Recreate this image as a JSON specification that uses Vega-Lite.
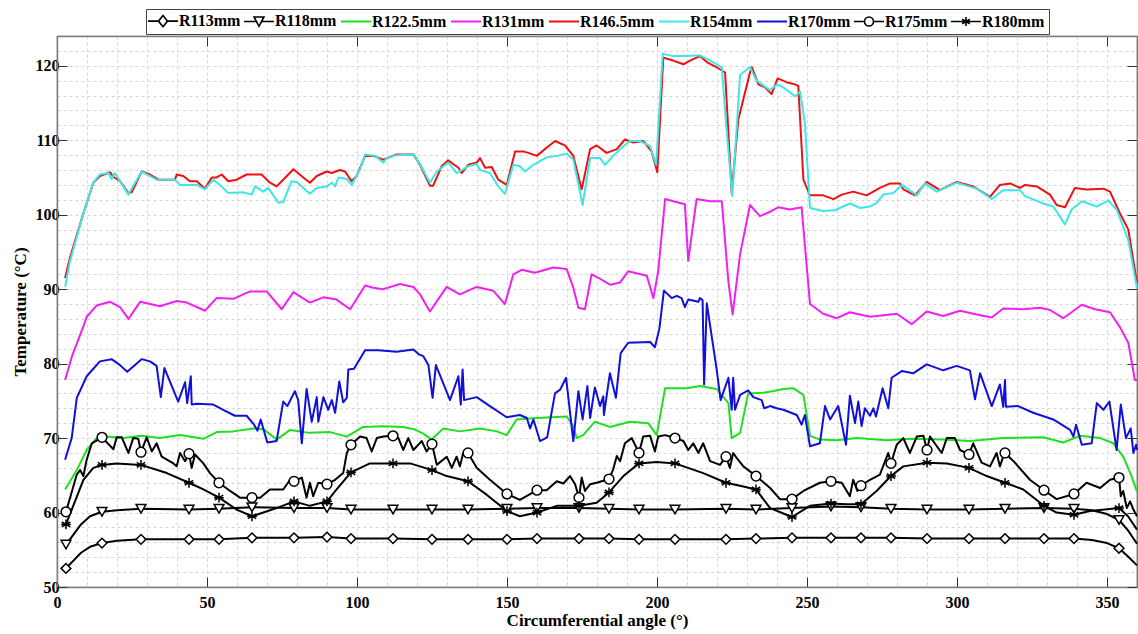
{
  "$schema": "https://vega.github.io/schema/vega-lite/v6.json",
  "width": 1080,
  "height": 551,
  "padding": {"left": 11, "top": 8, "right": 1, "bottom": 4},
  "background": "white",
  "config": {
    "font": "Liberation Serif",
    "view": {"stroke": "#808080", "strokeWidth": 1.2},
    "legend": {"layout": {"top": {"anchor": "middle"}}}
  },
  "data": {
    "values": [
      {"radius":"R113mm","angle":3,"temp":52.5},{"radius":"R113mm","angle":8,"temp":54.6},{"radius":"R113mm","angle":11,"temp":55.4},{"radius":"R113mm","angle":15,"temp":55.9},{"radius":"R113mm","angle":20,"temp":56.2},{"radius":"R113mm","angle":28,"temp":56.4},{"radius":"R113mm","angle":44,"temp":56.4},{"radius":"R113mm","angle":54,"temp":56.4},{"radius":"R113mm","angle":65,"temp":56.6},{"radius":"R113mm","angle":79,"temp":56.6},{"radius":"R113mm","angle":90,"temp":56.7},{"radius":"R113mm","angle":98,"temp":56.5},{"radius":"R113mm","angle":112,"temp":56.5},{"radius":"R113mm","angle":125,"temp":56.4},{"radius":"R113mm","angle":137,"temp":56.4},{"radius":"R113mm","angle":150,"temp":56.4},{"radius":"R113mm","angle":160,"temp":56.5},{"radius":"R113mm","angle":174,"temp":56.5},{"radius":"R113mm","angle":184,"temp":56.5},{"radius":"R113mm","angle":194,"temp":56.4},{"radius":"R113mm","angle":206,"temp":56.4},{"radius":"R113mm","angle":223,"temp":56.4},{"radius":"R113mm","angle":233,"temp":56.5},{"radius":"R113mm","angle":245,"temp":56.6},{"radius":"R113mm","angle":258,"temp":56.6},{"radius":"R113mm","angle":268,"temp":56.6},{"radius":"R113mm","angle":278,"temp":56.6},{"radius":"R113mm","angle":290,"temp":56.5},{"radius":"R113mm","angle":304,"temp":56.5},{"radius":"R113mm","angle":316,"temp":56.5},{"radius":"R113mm","angle":329,"temp":56.5},{"radius":"R113mm","angle":339,"temp":56.5},{"radius":"R113mm","angle":345,"temp":56.3},{"radius":"R113mm","angle":350,"temp":55.9},{"radius":"R113mm","angle":354,"temp":55.2},{"radius":"R113mm","angle":357,"temp":54.1},{"radius":"R113mm","angle":360,"temp":52.9},

      {"radius":"R118mm","angle":3,"temp":55.7},{"radius":"R118mm","angle":8,"temp":58.4},{"radius":"R118mm","angle":11,"temp":59.5},{"radius":"R118mm","angle":15,"temp":60.1},{"radius":"R118mm","angle":20,"temp":60.3},{"radius":"R118mm","angle":28,"temp":60.5},{"radius":"R118mm","angle":44,"temp":60.4},{"radius":"R118mm","angle":54,"temp":60.5},{"radius":"R118mm","angle":65,"temp":60.7},{"radius":"R118mm","angle":79,"temp":60.6},{"radius":"R118mm","angle":90,"temp":60.6},{"radius":"R118mm","angle":98,"temp":60.4},{"radius":"R118mm","angle":112,"temp":60.4},{"radius":"R118mm","angle":125,"temp":60.4},{"radius":"R118mm","angle":137,"temp":60.4},{"radius":"R118mm","angle":150,"temp":60.5},{"radius":"R118mm","angle":160,"temp":60.6},{"radius":"R118mm","angle":174,"temp":60.6},{"radius":"R118mm","angle":184,"temp":60.5},{"radius":"R118mm","angle":194,"temp":60.4},{"radius":"R118mm","angle":206,"temp":60.4},{"radius":"R118mm","angle":223,"temp":60.5},{"radius":"R118mm","angle":233,"temp":60.4},{"radius":"R118mm","angle":245,"temp":60.6},{"radius":"R118mm","angle":258,"temp":60.8},{"radius":"R118mm","angle":268,"temp":60.7},{"radius":"R118mm","angle":278,"temp":60.5},{"radius":"R118mm","angle":290,"temp":60.4},{"radius":"R118mm","angle":304,"temp":60.4},{"radius":"R118mm","angle":316,"temp":60.5},{"radius":"R118mm","angle":329,"temp":60.6},{"radius":"R118mm","angle":339,"temp":60.5},{"radius":"R118mm","angle":345,"temp":60.3},{"radius":"R118mm","angle":350,"temp":59.8},{"radius":"R118mm","angle":354,"temp":59.0},{"radius":"R118mm","angle":357,"temp":57.6},{"radius":"R118mm","angle":360,"temp":55.8},

      {"radius":"R122.5mm","angle":2.7,"temp":63.1},{"radius":"R122.5mm","angle":6.6,"temp":65.7},{"radius":"R122.5mm","angle":9.9,"temp":68.4},{"radius":"R122.5mm","angle":13.2,"temp":70.0},{"radius":"R122.5mm","angle":16.6,"temp":70.2},{"radius":"R122.5mm","angle":22.1,"temp":70.0},{"radius":"R122.5mm","angle":28.2,"temp":70.3},{"radius":"R122.5mm","angle":34.3,"temp":70.0},{"radius":"R122.5mm","angle":41,"temp":70.4},{"radius":"R122.5mm","angle":48.8,"temp":69.9},{"radius":"R122.5mm","angle":53.2,"temp":70.8},{"radius":"R122.5mm","angle":58.8,"temp":70.9},{"radius":"R122.5mm","angle":65.4,"temp":71.3},{"radius":"R122.5mm","angle":68.8,"temp":71.2},{"radius":"R122.5mm","angle":73.2,"temp":69.8},{"radius":"R122.5mm","angle":77.7,"temp":71.1},{"radius":"R122.5mm","angle":84.3,"temp":70.7},{"radius":"R122.5mm","angle":91,"temp":70.8},{"radius":"R122.5mm","angle":96.6,"temp":70.2},{"radius":"R122.5mm","angle":102.1,"temp":71.5},{"radius":"R122.5mm","angle":108.8,"temp":71.6},{"radius":"R122.5mm","angle":115.4,"temp":71.5},{"radius":"R122.5mm","angle":119,"temp":71.2},{"radius":"R122.5mm","angle":122.1,"temp":70.6},{"radius":"R122.5mm","angle":124.9,"temp":69.8},{"radius":"R122.5mm","angle":128.8,"temp":71.3},{"radius":"R122.5mm","angle":134.3,"temp":70.9},{"radius":"R122.5mm","angle":141,"temp":71.3},{"radius":"R122.5mm","angle":146.6,"temp":70.9},{"radius":"R122.5mm","angle":149.9,"temp":70.4},{"radius":"R122.5mm","angle":153.2,"temp":72.5},{"radius":"R122.5mm","angle":159.9,"temp":72.7},{"radius":"R122.5mm","angle":169.9,"temp":72.9},{"radius":"R122.5mm","angle":172.1,"temp":71.6},{"radius":"R122.5mm","angle":173.2,"temp":70.0},{"radius":"R122.5mm","angle":175.4,"temp":70.4},{"radius":"R122.5mm","angle":179.3,"temp":72.2},{"radius":"R122.5mm","angle":184.3,"temp":71.5},{"radius":"R122.5mm","angle":191,"temp":72.2},{"radius":"R122.5mm","angle":197.1,"temp":72.0},{"radius":"R122.5mm","angle":199.9,"temp":70.4},{"radius":"R122.5mm","angle":202.7,"temp":76.7},{"radius":"R122.5mm","angle":209.9,"temp":76.7},{"radius":"R122.5mm","angle":214.3,"temp":77.0},{"radius":"R122.5mm","angle":219.9,"temp":76.6},{"radius":"R122.5mm","angle":223.8,"temp":74.7},{"radius":"R122.5mm","angle":224.9,"temp":70.0},{"radius":"R122.5mm","angle":227.7,"temp":70.7},{"radius":"R122.5mm","angle":230.4,"temp":76.0},{"radius":"R122.5mm","angle":235.4,"temp":76.1},{"radius":"R122.5mm","angle":238.5,"temp":76.3},{"radius":"R122.5mm","angle":242.1,"temp":76.6},{"radius":"R122.5mm","angle":245.4,"temp":76.7},{"radius":"R122.5mm","angle":248.8,"temp":75.8},{"radius":"R122.5mm","angle":251,"temp":70.3},{"radius":"R122.5mm","angle":254.3,"temp":69.8},{"radius":"R122.5mm","angle":259.9,"temp":69.7},{"radius":"R122.5mm","angle":266.6,"temp":70.0},{"radius":"R122.5mm","angle":276.6,"temp":69.7},{"radius":"R122.5mm","angle":284.3,"temp":69.9},{"radius":"R122.5mm","angle":295.4,"temp":69.8},{"radius":"R122.5mm","angle":304.3,"temp":69.6},{"radius":"R122.5mm","angle":315.4,"temp":70.0},{"radius":"R122.5mm","angle":328.8,"temp":70.1},{"radius":"R122.5mm","angle":335.4,"temp":69.4},{"radius":"R122.5mm","angle":341,"temp":70.3},{"radius":"R122.5mm","angle":347.7,"temp":70.0},{"radius":"R122.5mm","angle":352.1,"temp":69.3},{"radius":"R122.5mm","angle":355.4,"temp":67.5},{"radius":"R122.5mm","angle":358.2,"temp":64.9},{"radius":"R122.5mm","angle":360,"temp":62.8},

      {"radius":"R131mm","angle":2.7,"temp":77.8},{"radius":"R131mm","angle":5,"temp":81.0},{"radius":"R131mm","angle":8.8,"temp":85.0},{"radius":"R131mm","angle":9.9,"temp":86.3},{"radius":"R131mm","angle":13.2,"temp":87.8},{"radius":"R131mm","angle":17.7,"temp":88.3},{"radius":"R131mm","angle":21,"temp":87.6},{"radius":"R131mm","angle":23.8,"temp":86.0},{"radius":"R131mm","angle":27.7,"temp":88.3},{"radius":"R131mm","angle":31,"temp":88.0},{"radius":"R131mm","angle":34.3,"temp":87.7},{"radius":"R131mm","angle":39.9,"temp":88.4},{"radius":"R131mm","angle":43.2,"temp":88.2},{"radius":"R131mm","angle":46.6,"temp":87.6},{"radius":"R131mm","angle":49.3,"temp":87.1},{"radius":"R131mm","angle":53.2,"temp":88.8},{"radius":"R131mm","angle":58.8,"temp":88.7},{"radius":"R131mm","angle":64.3,"temp":89.7},{"radius":"R131mm","angle":69.9,"temp":89.7},{"radius":"R131mm","angle":74.9,"temp":87.3},{"radius":"R131mm","angle":78.8,"temp":89.6},{"radius":"R131mm","angle":84.3,"temp":88.2},{"radius":"R131mm","angle":88.8,"temp":88.9},{"radius":"R131mm","angle":93.2,"temp":88.6},{"radius":"R131mm","angle":97.7,"temp":87.3},{"radius":"R131mm","angle":102.7,"temp":90.5},{"radius":"R131mm","angle":105.4,"temp":90.2},{"radius":"R131mm","angle":108.8,"temp":90.0},{"radius":"R131mm","angle":114.3,"temp":90.7},{"radius":"R131mm","angle":118.8,"temp":90.3},{"radius":"R131mm","angle":121,"temp":89.3},{"radius":"R131mm","angle":124.3,"temp":87.0},{"radius":"R131mm","angle":129.9,"temp":90.3},{"radius":"R131mm","angle":134.3,"temp":89.3},{"radius":"R131mm","angle":139.9,"temp":90.3},{"radius":"R131mm","angle":145.4,"temp":89.8},{"radius":"R131mm","angle":149.3,"temp":88.0},{"radius":"R131mm","angle":152.1,"temp":92.0},{"radius":"R131mm","angle":154.9,"temp":92.6},{"radius":"R131mm","angle":159.3,"temp":92.2},{"radius":"R131mm","angle":165.4,"temp":92.9},{"radius":"R131mm","angle":169.9,"temp":92.7},{"radius":"R131mm","angle":172.1,"temp":90.2},{"radius":"R131mm","angle":173.8,"temp":87.5},{"radius":"R131mm","angle":176,"temp":87.3},{"radius":"R131mm","angle":178.2,"temp":92.0},{"radius":"R131mm","angle":181,"temp":91.4},{"radius":"R131mm","angle":184.3,"temp":90.6},{"radius":"R131mm","angle":187.7,"temp":90.9},{"radius":"R131mm","angle":190.4,"temp":92.4},{"radius":"R131mm","angle":196.6,"temp":91.8},{"radius":"R131mm","angle":198.8,"temp":88.8},{"radius":"R131mm","angle":200.4,"temp":92.4},{"radius":"R131mm","angle":202.7,"temp":102.1},{"radius":"R131mm","angle":205.4,"temp":101.8},{"radius":"R131mm","angle":209.3,"temp":101.4},{"radius":"R131mm","angle":210.4,"temp":93.8},{"radius":"R131mm","angle":213.2,"temp":102.1},{"radius":"R131mm","angle":217.7,"temp":101.8},{"radius":"R131mm","angle":221.6,"temp":101.8},{"radius":"R131mm","angle":223.8,"temp":91.0},{"radius":"R131mm","angle":225.2,"temp":86.6},{"radius":"R131mm","angle":227.7,"temp":94.7},{"radius":"R131mm","angle":231,"temp":101.3},{"radius":"R131mm","angle":234.3,"temp":99.8},{"radius":"R131mm","angle":237.7,"temp":100.4},{"radius":"R131mm","angle":240.4,"temp":101.0},{"radius":"R131mm","angle":244.3,"temp":100.7},{"radius":"R131mm","angle":248.2,"temp":101.0},{"radius":"R131mm","angle":251,"temp":88.0},{"radius":"R131mm","angle":255.4,"temp":86.7},{"radius":"R131mm","angle":259.9,"temp":86.1},{"radius":"R131mm","angle":264.3,"temp":86.9},{"radius":"R131mm","angle":271,"temp":86.3},{"radius":"R131mm","angle":279.9,"temp":86.7},{"radius":"R131mm","angle":284.9,"temp":85.3},{"radius":"R131mm","angle":289.9,"temp":87.0},{"radius":"R131mm","angle":295.4,"temp":86.4},{"radius":"R131mm","angle":301,"temp":87.1},{"radius":"R131mm","angle":306.6,"temp":86.6},{"radius":"R131mm","angle":311.6,"temp":86.2},{"radius":"R131mm","angle":315.4,"temp":87.4},{"radius":"R131mm","angle":322.1,"temp":87.3},{"radius":"R131mm","angle":327.7,"temp":87.5},{"radius":"R131mm","angle":331,"temp":87.2},{"radius":"R131mm","angle":335.4,"temp":86.1},{"radius":"R131mm","angle":338.2,"temp":86.9},{"radius":"R131mm","angle":341.6,"temp":87.9},{"radius":"R131mm","angle":346,"temp":87.3},{"radius":"R131mm","angle":351,"temp":86.9},{"radius":"R131mm","angle":354.3,"temp":84.9},{"radius":"R131mm","angle":357.1,"temp":82.8},{"radius":"R131mm","angle":359.3,"temp":77.8},{"radius":"R131mm","angle":360,"temp":77.8},

      {"radius":"R146.5mm","angle":2.7,"temp":91.5},{"radius":"R146.5mm","angle":4.3,"temp":94.2},{"radius":"R146.5mm","angle":8.8,"temp":100.2},{"radius":"R146.5mm","angle":12.1,"temp":104.3},{"radius":"R146.5mm","angle":14.3,"temp":105.2},{"radius":"R146.5mm","angle":17.7,"temp":105.7},{"radius":"R146.5mm","angle":18.8,"temp":105.1},{"radius":"R146.5mm","angle":21,"temp":104.5},{"radius":"R146.5mm","angle":23.8,"temp":102.9},{"radius":"R146.5mm","angle":24.9,"temp":103.0},{"radius":"R146.5mm","angle":28.2,"temp":105.8},{"radius":"R146.5mm","angle":31,"temp":105.4},{"radius":"R146.5mm","angle":33.8,"temp":104.7},{"radius":"R146.5mm","angle":39.3,"temp":104.7},{"radius":"R146.5mm","angle":39.9,"temp":105.4},{"radius":"R146.5mm","angle":42.1,"temp":105.2},{"radius":"R146.5mm","angle":44.3,"temp":104.5},{"radius":"R146.5mm","angle":46.6,"temp":104.5},{"radius":"R146.5mm","angle":49.3,"temp":103.5},{"radius":"R146.5mm","angle":51.6,"temp":105.0},{"radius":"R146.5mm","angle":53.2,"temp":105.0},{"radius":"R146.5mm","angle":54.9,"temp":105.4},{"radius":"R146.5mm","angle":57.1,"temp":104.5},{"radius":"R146.5mm","angle":59.9,"temp":104.7},{"radius":"R146.5mm","angle":63.2,"temp":105.4},{"radius":"R146.5mm","angle":65.4,"temp":105.4},{"radius":"R146.5mm","angle":68.2,"temp":105.4},{"radius":"R146.5mm","angle":71,"temp":104.3},{"radius":"R146.5mm","angle":73.2,"temp":103.8},{"radius":"R146.5mm","angle":75.4,"temp":104.7},{"radius":"R146.5mm","angle":78.8,"temp":106.1},{"radius":"R146.5mm","angle":82.1,"temp":105.0},{"radius":"R146.5mm","angle":84.3,"temp":104.3},{"radius":"R146.5mm","angle":86.6,"temp":105.2},{"radius":"R146.5mm","angle":89.9,"temp":105.8},{"radius":"R146.5mm","angle":91.6,"temp":105.6},{"radius":"R146.5mm","angle":94.3,"temp":106.0},{"radius":"R146.5mm","angle":96,"temp":105.8},{"radius":"R146.5mm","angle":98.2,"temp":104.5},{"radius":"R146.5mm","angle":99.9,"temp":105.2},{"radius":"R146.5mm","angle":102.7,"temp":107.9},{"radius":"R146.5mm","angle":105.4,"temp":107.9},{"radius":"R146.5mm","angle":108.8,"temp":107.4},{"radius":"R146.5mm","angle":113.2,"temp":108.1},{"radius":"R146.5mm","angle":118.8,"temp":108.1},{"radius":"R146.5mm","angle":121,"temp":106.7},{"radius":"R146.5mm","angle":124.3,"temp":103.9},{"radius":"R146.5mm","angle":125.4,"temp":103.9},{"radius":"R146.5mm","angle":128.2,"temp":106.5},{"radius":"R146.5mm","angle":130.4,"temp":107.3},{"radius":"R146.5mm","angle":133.8,"temp":106.3},{"radius":"R146.5mm","angle":134.9,"temp":105.6},{"radius":"R146.5mm","angle":137.1,"temp":106.7},{"radius":"R146.5mm","angle":139.9,"temp":107.0},{"radius":"R146.5mm","angle":141,"temp":107.6},{"radius":"R146.5mm","angle":142.7,"temp":106.3},{"radius":"R146.5mm","angle":144.9,"temp":106.4},{"radius":"R146.5mm","angle":147.1,"temp":104.7},{"radius":"R146.5mm","angle":149.9,"temp":104.0},{"radius":"R146.5mm","angle":152.7,"temp":108.5},{"radius":"R146.5mm","angle":155.4,"temp":108.5},{"radius":"R146.5mm","angle":157.1,"temp":108.3},{"radius":"R146.5mm","angle":159.9,"temp":107.9},{"radius":"R146.5mm","angle":163.2,"temp":109.0},{"radius":"R146.5mm","angle":166,"temp":109.9},{"radius":"R146.5mm","angle":169.3,"temp":109.3},{"radius":"R146.5mm","angle":172.1,"temp":107.9},{"radius":"R146.5mm","angle":174.9,"temp":103.4},{"radius":"R146.5mm","angle":177.7,"temp":108.8},{"radius":"R146.5mm","angle":179.9,"temp":109.3},{"radius":"R146.5mm","angle":183.2,"temp":108.3},{"radius":"R146.5mm","angle":186.6,"temp":108.8},{"radius":"R146.5mm","angle":189.3,"temp":110.1},{"radius":"R146.5mm","angle":192.1,"temp":109.7},{"radius":"R146.5mm","angle":195.4,"temp":109.9},{"radius":"R146.5mm","angle":198.2,"temp":108.5},{"radius":"R146.5mm","angle":200.1,"temp":105.7},{"radius":"R146.5mm","angle":202.1,"temp":121.1},{"radius":"R146.5mm","angle":205.4,"temp":120.7},{"radius":"R146.5mm","angle":208.8,"temp":120.2},{"radius":"R146.5mm","angle":211,"temp":120.7},{"radius":"R146.5mm","angle":214.3,"temp":121.3},{"radius":"R146.5mm","angle":216.6,"temp":120.5},{"radius":"R146.5mm","angle":219.9,"temp":119.8},{"radius":"R146.5mm","angle":222.7,"temp":119.1},{"radius":"R146.5mm","angle":224.9,"temp":102.9},{"radius":"R146.5mm","angle":227.1,"temp":112.8},{"radius":"R146.5mm","angle":231,"temp":119.1},{"radius":"R146.5mm","angle":231.6,"temp":119.8},{"radius":"R146.5mm","angle":233.8,"temp":117.5},{"radius":"R146.5mm","angle":236,"temp":117.1},{"radius":"R146.5mm","angle":238.2,"temp":116.2},{"radius":"R146.5mm","angle":240.2,"temp":118.3},{"radius":"R146.5mm","angle":243.2,"temp":117.8},{"radius":"R146.5mm","angle":246,"temp":117.5},{"radius":"R146.5mm","angle":247.1,"temp":117.3},{"radius":"R146.5mm","angle":248.8,"temp":104.7},{"radius":"R146.5mm","angle":251,"temp":102.6},{"radius":"R146.5mm","angle":255.4,"temp":102.6},{"radius":"R146.5mm","angle":258.8,"temp":102.1},{"radius":"R146.5mm","angle":261.6,"temp":102.7},{"radius":"R146.5mm","angle":265.4,"temp":103.1},{"radius":"R146.5mm","angle":269.9,"temp":102.6},{"radius":"R146.5mm","angle":274.3,"temp":103.6},{"radius":"R146.5mm","angle":277.7,"temp":104.2},{"radius":"R146.5mm","angle":281,"temp":104.2},{"radius":"R146.5mm","angle":282.1,"temp":103.4},{"radius":"R146.5mm","angle":286,"temp":102.6},{"radius":"R146.5mm","angle":289.9,"temp":104.4},{"radius":"R146.5mm","angle":294.3,"temp":103.3},{"radius":"R146.5mm","angle":299.9,"temp":104.4},{"radius":"R146.5mm","angle":305.4,"temp":103.8},{"radius":"R146.5mm","angle":311,"temp":102.4},{"radius":"R146.5mm","angle":314.3,"temp":104.0},{"radius":"R146.5mm","angle":317.7,"temp":104.2},{"radius":"R146.5mm","angle":321,"temp":103.6},{"radius":"R146.5mm","angle":322.7,"temp":104.0},{"radius":"R146.5mm","angle":326.6,"temp":103.8},{"radius":"R146.5mm","angle":331,"temp":102.7},{"radius":"R146.5mm","angle":333.2,"temp":101.3},{"radius":"R146.5mm","angle":336,"temp":101.0},{"radius":"R146.5mm","angle":339.3,"temp":103.6},{"radius":"R146.5mm","angle":343.2,"temp":103.4},{"radius":"R146.5mm","angle":348.8,"temp":103.5},{"radius":"R146.5mm","angle":351,"temp":103.1},{"radius":"R146.5mm","angle":354.3,"temp":100.2},{"radius":"R146.5mm","angle":357.1,"temp":98.0},{"radius":"R146.5mm","angle":360,"temp":90.8},

      {"radius":"R154mm","angle":2.7,"temp":90.3},{"radius":"R154mm","angle":4.3,"temp":93.7},{"radius":"R154mm","angle":8.8,"temp":100.2},{"radius":"R154mm","angle":12.1,"temp":104.3},{"radius":"R154mm","angle":14.3,"temp":105.4},{"radius":"R154mm","angle":17.1,"temp":105.6},{"radius":"R154mm","angle":18.2,"temp":104.8},{"radius":"R154mm","angle":19.3,"temp":105.6},{"radius":"R154mm","angle":23.8,"temp":102.7},{"radius":"R154mm","angle":28.2,"temp":105.8},{"radius":"R154mm","angle":33.2,"temp":104.7},{"radius":"R154mm","angle":39.3,"temp":104.7},{"radius":"R154mm","angle":41,"temp":104.0},{"radius":"R154mm","angle":46.6,"temp":104.0},{"radius":"R154mm","angle":49.3,"temp":103.4},{"radius":"R154mm","angle":52.1,"temp":104.7},{"radius":"R154mm","angle":54.3,"temp":104.0},{"radius":"R154mm","angle":57.1,"temp":102.9},{"radius":"R154mm","angle":62.1,"temp":103.0},{"radius":"R154mm","angle":64.9,"temp":102.7},{"radius":"R154mm","angle":66,"temp":103.8},{"radius":"R154mm","angle":68.8,"temp":103.1},{"radius":"R154mm","angle":70.4,"temp":103.6},{"radius":"R154mm","angle":73.8,"temp":101.6},{"radius":"R154mm","angle":75.4,"temp":101.7},{"radius":"R154mm","angle":78.2,"temp":104.5},{"radius":"R154mm","angle":79.9,"temp":104.4},{"radius":"R154mm","angle":84.3,"temp":102.8},{"radius":"R154mm","angle":86.6,"temp":103.6},{"radius":"R154mm","angle":89.9,"temp":103.8},{"radius":"R154mm","angle":91.6,"temp":104.3},{"radius":"R154mm","angle":92.7,"temp":103.8},{"radius":"R154mm","angle":93.8,"temp":105.0},{"radius":"R154mm","angle":96.6,"temp":104.8},{"radius":"R154mm","angle":98.2,"temp":104.0},{"radius":"R154mm","angle":101,"temp":106.1},{"radius":"R154mm","angle":102.7,"temp":108.1},{"radius":"R154mm","angle":106,"temp":107.9},{"radius":"R154mm","angle":108.8,"temp":107.0},{"radius":"R154mm","angle":109.9,"temp":107.6},{"radius":"R154mm","angle":113.2,"temp":108.0},{"radius":"R154mm","angle":118.8,"temp":108.1},{"radius":"R154mm","angle":121,"temp":106.8},{"radius":"R154mm","angle":124.3,"temp":104.3},{"radius":"R154mm","angle":126.6,"temp":105.8},{"radius":"R154mm","angle":130.4,"temp":107.0},{"radius":"R154mm","angle":133.2,"temp":105.6},{"radius":"R154mm","angle":137.1,"temp":106.5},{"radius":"R154mm","angle":139.9,"temp":106.8},{"radius":"R154mm","angle":141,"temp":106.0},{"radius":"R154mm","angle":144.3,"temp":105.6},{"radius":"R154mm","angle":147.1,"temp":103.8},{"radius":"R154mm","angle":149.3,"temp":102.8},{"radius":"R154mm","angle":152.1,"temp":106.7},{"radius":"R154mm","angle":154.3,"temp":106.5},{"radius":"R154mm","angle":156,"temp":105.8},{"radius":"R154mm","angle":158.8,"temp":106.7},{"radius":"R154mm","angle":163.2,"temp":107.7},{"radius":"R154mm","angle":166.6,"temp":107.9},{"radius":"R154mm","angle":169.9,"temp":108.2},{"radius":"R154mm","angle":172.1,"temp":107.4},{"radius":"R154mm","angle":175.2,"temp":101.3},{"radius":"R154mm","angle":177.7,"temp":107.6},{"radius":"R154mm","angle":181,"temp":107.6},{"radius":"R154mm","angle":182.7,"temp":106.7},{"radius":"R154mm","angle":185.4,"temp":107.9},{"radius":"R154mm","angle":188.8,"temp":109.2},{"radius":"R154mm","angle":191,"temp":109.9},{"radius":"R154mm","angle":194.3,"temp":109.9},{"radius":"R154mm","angle":197.7,"temp":109.2},{"radius":"R154mm","angle":199.7,"temp":106.7},{"radius":"R154mm","angle":201.9,"temp":121.6},{"radius":"R154mm","angle":205.4,"temp":121.3},{"radius":"R154mm","angle":209.9,"temp":121.3},{"radius":"R154mm","angle":214.3,"temp":121.4},{"radius":"R154mm","angle":217.7,"temp":120.7},{"radius":"R154mm","angle":221.6,"temp":119.8},{"radius":"R154mm","angle":223,"temp":112.4},{"radius":"R154mm","angle":225.1,"temp":102.5},{"radius":"R154mm","angle":227.7,"temp":118.8},{"radius":"R154mm","angle":231,"temp":119.8},{"radius":"R154mm","angle":233.2,"temp":118.0},{"radius":"R154mm","angle":237.7,"temp":116.7},{"radius":"R154mm","angle":239.9,"temp":117.5},{"radius":"R154mm","angle":242.1,"temp":117.1},{"radius":"R154mm","angle":246,"temp":115.9},{"radius":"R154mm","angle":247.7,"temp":116.5},{"radius":"R154mm","angle":249.3,"temp":112.3},{"radius":"R154mm","angle":251,"temp":100.9},{"radius":"R154mm","angle":255.4,"temp":100.5},{"radius":"R154mm","angle":259.3,"temp":100.6},{"radius":"R154mm","angle":264.3,"temp":101.5},{"radius":"R154mm","angle":267.7,"temp":100.9},{"radius":"R154mm","angle":271,"temp":101.1},{"radius":"R154mm","angle":273.2,"temp":101.6},{"radius":"R154mm","angle":275.4,"temp":102.7},{"radius":"R154mm","angle":278.8,"temp":102.9},{"radius":"R154mm","angle":281.6,"temp":104.0},{"radius":"R154mm","angle":286.6,"temp":102.6},{"radius":"R154mm","angle":289.3,"temp":104.2},{"radius":"R154mm","angle":293.2,"temp":103.1},{"radius":"R154mm","angle":299.9,"temp":104.3},{"radius":"R154mm","angle":306.6,"temp":103.5},{"radius":"R154mm","angle":311.6,"temp":102.1},{"radius":"R154mm","angle":315.4,"temp":103.3},{"radius":"R154mm","angle":321,"temp":103.3},{"radius":"R154mm","angle":322.7,"temp":102.5},{"radius":"R154mm","angle":328.8,"temp":101.5},{"radius":"R154mm","angle":332.1,"temp":101.1},{"radius":"R154mm","angle":336,"temp":98.7},{"radius":"R154mm","angle":338.2,"temp":100.7},{"radius":"R154mm","angle":341.6,"temp":101.8},{"radius":"R154mm","angle":346.6,"temp":101.1},{"radius":"R154mm","angle":350.4,"temp":101.9},{"radius":"R154mm","angle":353.2,"temp":100.7},{"radius":"R154mm","angle":357.1,"temp":96.6},{"radius":"R154mm","angle":360,"temp":90.1},

      {"radius":"R170mm","angle":2.7,"temp":67.1},{"radius":"R170mm","angle":4.9,"temp":70.0},{"radius":"R170mm","angle":6.6,"temp":75.4},{"radius":"R170mm","angle":9.9,"temp":78.3},{"radius":"R170mm","angle":14.3,"temp":80.3},{"radius":"R170mm","angle":18.2,"temp":80.6},{"radius":"R170mm","angle":21,"temp":79.8},{"radius":"R170mm","angle":23.4,"temp":78.9},{"radius":"R170mm","angle":28.2,"temp":80.6},{"radius":"R170mm","angle":31,"temp":80.3},{"radius":"R170mm","angle":33.2,"temp":79.7},{"radius":"R170mm","angle":34.6,"temp":75.5},{"radius":"R170mm","angle":35.8,"temp":79.4},{"radius":"R170mm","angle":40.4,"temp":74.9},{"radius":"R170mm","angle":42.7,"temp":77.5},{"radius":"R170mm","angle":43.4,"temp":74.7},{"radius":"R170mm","angle":44.6,"temp":78.3},{"radius":"R170mm","angle":44.9,"temp":74.5},{"radius":"R170mm","angle":46.6,"temp":74.6},{"radius":"R170mm","angle":52.1,"temp":74.5},{"radius":"R170mm","angle":55.4,"temp":73.8},{"radius":"R170mm","angle":59.3,"temp":73.0},{"radius":"R170mm","angle":63.2,"temp":73.0},{"radius":"R170mm","angle":65.7,"temp":71.8},{"radius":"R170mm","angle":66.8,"temp":71.0},{"radius":"R170mm","angle":67.9,"temp":72.5},{"radius":"R170mm","angle":70.1,"temp":69.4},{"radius":"R170mm","angle":73.2,"temp":69.6},{"radius":"R170mm","angle":75.4,"temp":74.9},{"radius":"R170mm","angle":76.8,"temp":74.3},{"radius":"R170mm","angle":79.3,"temp":76.3},{"radius":"R170mm","angle":80.4,"temp":75.1},{"radius":"R170mm","angle":81.6,"temp":69.3},{"radius":"R170mm","angle":83.2,"temp":76.6},{"radius":"R170mm","angle":84.9,"temp":72.2},{"radius":"R170mm","angle":86.6,"temp":75.5},{"radius":"R170mm","angle":87.1,"temp":72.2},{"radius":"R170mm","angle":88.8,"temp":75.5},{"radius":"R170mm","angle":90.4,"temp":73.8},{"radius":"R170mm","angle":91.6,"temp":75.1},{"radius":"R170mm","angle":92.7,"temp":73.4},{"radius":"R170mm","angle":94.1,"temp":77.6},{"radius":"R170mm","angle":95.4,"temp":74.8},{"radius":"R170mm","angle":96.6,"temp":75.4},{"radius":"R170mm","angle":97.1,"temp":79.2},{"radius":"R170mm","angle":99,"temp":79.3},{"radius":"R170mm","angle":102.7,"temp":81.8},{"radius":"R170mm","angle":107.1,"temp":81.8},{"radius":"R170mm","angle":113.2,"temp":81.6},{"radius":"R170mm","angle":118.8,"temp":81.9},{"radius":"R170mm","angle":120.8,"temp":81.2},{"radius":"R170mm","angle":122.1,"temp":81.0},{"radius":"R170mm","angle":123.8,"temp":79.8},{"radius":"R170mm","angle":125.2,"temp":75.4},{"radius":"R170mm","angle":126.3,"temp":79.8},{"radius":"R170mm","angle":131,"temp":75.1},{"radius":"R170mm","angle":133.8,"temp":78.3},{"radius":"R170mm","angle":134.6,"temp":74.5},{"radius":"R170mm","angle":135.2,"temp":79.2},{"radius":"R170mm","angle":135.7,"temp":75.1},{"radius":"R170mm","angle":139.9,"temp":75.5},{"radius":"R170mm","angle":144.3,"temp":74.3},{"radius":"R170mm","angle":149.9,"temp":72.8},{"radius":"R170mm","angle":154.3,"temp":73.1},{"radius":"R170mm","angle":156.6,"temp":72.7},{"radius":"R170mm","angle":157.7,"temp":71.3},{"radius":"R170mm","angle":158.8,"temp":72.5},{"radius":"R170mm","angle":161,"temp":69.6},{"radius":"R170mm","angle":163.4,"temp":70.1},{"radius":"R170mm","angle":166,"temp":76.0},{"radius":"R170mm","angle":167.7,"temp":76.5},{"radius":"R170mm","angle":169.7,"temp":78.1},{"radius":"R170mm","angle":172.1,"temp":69.6},{"radius":"R170mm","angle":173.8,"temp":76.3},{"radius":"R170mm","angle":175.2,"temp":72.5},{"radius":"R170mm","angle":176.8,"temp":77.0},{"radius":"R170mm","angle":177.7,"temp":72.7},{"radius":"R170mm","angle":179.3,"temp":76.8},{"radius":"R170mm","angle":181,"temp":74.3},{"radius":"R170mm","angle":182.1,"temp":75.6},{"radius":"R170mm","angle":182.3,"temp":73.1},{"radius":"R170mm","angle":184.3,"temp":78.7},{"radius":"R170mm","angle":186.3,"temp":75.4},{"radius":"R170mm","angle":187.9,"temp":81.4},{"radius":"R170mm","angle":190.4,"temp":82.8},{"radius":"R170mm","angle":197.7,"temp":82.9},{"radius":"R170mm","angle":199.3,"temp":82.2},{"radius":"R170mm","angle":200.8,"temp":84.7},{"radius":"R170mm","angle":202.3,"temp":89.8},{"radius":"R170mm","angle":204.9,"temp":88.8},{"radius":"R170mm","angle":206.6,"temp":89.1},{"radius":"R170mm","angle":208.2,"temp":88.8},{"radius":"R170mm","angle":209.3,"temp":87.6},{"radius":"R170mm","angle":210.4,"temp":88.6},{"radius":"R170mm","angle":213.8,"temp":88.3},{"radius":"R170mm","angle":214.3,"temp":88.8},{"radius":"R170mm","angle":215.2,"temp":88.5},{"radius":"R170mm","angle":215.7,"temp":77.2},{"radius":"R170mm","angle":216.6,"temp":88.1},{"radius":"R170mm","angle":219.9,"temp":79.2},{"radius":"R170mm","angle":221.2,"temp":75.1},{"radius":"R170mm","angle":223.8,"temp":78.1},{"radius":"R170mm","angle":224.9,"temp":73.8},{"radius":"R170mm","angle":225.4,"temp":78.1},{"radius":"R170mm","angle":226,"temp":73.8},{"radius":"R170mm","angle":227.7,"temp":75.8},{"radius":"R170mm","angle":230.4,"temp":76.4},{"radius":"R170mm","angle":232.1,"temp":75.5},{"radius":"R170mm","angle":234.9,"temp":75.1},{"radius":"R170mm","angle":235.7,"temp":74.0},{"radius":"R170mm","angle":237.7,"temp":74.3},{"radius":"R170mm","angle":239.9,"temp":74.0},{"radius":"R170mm","angle":242.1,"temp":73.8},{"radius":"R170mm","angle":246.6,"temp":73.1},{"radius":"R170mm","angle":248.2,"temp":71.8},{"radius":"R170mm","angle":249.3,"temp":73.1},{"radius":"R170mm","angle":251,"temp":68.9},{"radius":"R170mm","angle":254.3,"temp":69.3},{"radius":"R170mm","angle":256,"temp":74.3},{"radius":"R170mm","angle":257.7,"temp":72.5},{"radius":"R170mm","angle":260.4,"temp":74.3},{"radius":"R170mm","angle":263,"temp":69.1},{"radius":"R170mm","angle":264.3,"temp":75.7},{"radius":"R170mm","angle":266,"temp":72.0},{"radius":"R170mm","angle":267.1,"temp":74.9},{"radius":"R170mm","angle":268.2,"temp":71.6},{"radius":"R170mm","angle":269.3,"temp":74.0},{"radius":"R170mm","angle":271,"temp":73.0},{"radius":"R170mm","angle":272.1,"temp":74.0},{"radius":"R170mm","angle":273,"temp":72.9},{"radius":"R170mm","angle":275.2,"temp":76.7},{"radius":"R170mm","angle":277.1,"temp":74.0},{"radius":"R170mm","angle":278.2,"temp":78.1},{"radius":"R170mm","angle":281.6,"temp":79.0},{"radius":"R170mm","angle":285.4,"temp":78.7},{"radius":"R170mm","angle":289.9,"temp":79.9},{"radius":"R170mm","angle":295.4,"temp":79.1},{"radius":"R170mm","angle":299.9,"temp":79.7},{"radius":"R170mm","angle":304.3,"temp":79.1},{"radius":"R170mm","angle":306,"temp":75.2},{"radius":"R170mm","angle":307.7,"temp":78.7},{"radius":"R170mm","angle":311.6,"temp":74.3},{"radius":"R170mm","angle":314.3,"temp":77.2},{"radius":"R170mm","angle":315.4,"temp":74.2},{"radius":"R170mm","angle":316,"temp":77.8},{"radius":"R170mm","angle":316.3,"temp":74.2},{"radius":"R170mm","angle":320.4,"temp":74.3},{"radius":"R170mm","angle":325.4,"temp":73.4},{"radius":"R170mm","angle":332.1,"temp":72.5},{"radius":"R170mm","angle":337.7,"temp":71.1},{"radius":"R170mm","angle":338.8,"temp":70.2},{"radius":"R170mm","angle":339.7,"temp":71.8},{"radius":"R170mm","angle":341.6,"temp":69.1},{"radius":"R170mm","angle":344.9,"temp":69.3},{"radius":"R170mm","angle":346.6,"temp":74.7},{"radius":"R170mm","angle":348.8,"temp":73.8},{"radius":"R170mm","angle":350.8,"temp":74.9},{"radius":"R170mm","angle":353.2,"temp":68.4},{"radius":"R170mm","angle":354.6,"temp":74.5},{"radius":"R170mm","angle":356.3,"temp":70.0},{"radius":"R170mm","angle":357.9,"temp":71.3},{"radius":"R170mm","angle":358.8,"temp":68.0},{"radius":"R170mm","angle":359.7,"temp":69.1},{"radius":"R170mm","angle":360,"temp":68.4},

      {"radius":"R175mm","angle":3,"temp":60.1},{"radius":"R175mm","angle":6.6,"temp":65.1},{"radius":"R175mm","angle":7.7,"temp":65.7},{"radius":"R175mm","angle":8.8,"temp":64.9},{"radius":"R175mm","angle":9.9,"temp":67.1},{"radius":"R175mm","angle":11.6,"temp":69.3},{"radius":"R175mm","angle":15,"temp":70.1},{"radius":"R175mm","angle":18.8,"temp":68.5},{"radius":"R175mm","angle":19.9,"temp":70.1},{"radius":"R175mm","angle":21.6,"temp":70.1},{"radius":"R175mm","angle":23.8,"temp":68.0},{"radius":"R175mm","angle":25.4,"temp":70.0},{"radius":"R175mm","angle":27.1,"temp":69.9},{"radius":"R175mm","angle":28,"temp":68.1},{"radius":"R175mm","angle":29.9,"temp":70.1},{"radius":"R175mm","angle":31.6,"temp":68.2},{"radius":"R175mm","angle":33.2,"temp":69.3},{"radius":"R175mm","angle":34.9,"temp":67.5},{"radius":"R175mm","angle":38.8,"temp":66.6},{"radius":"R175mm","angle":39.9,"temp":66.2},{"radius":"R175mm","angle":41,"temp":68.0},{"radius":"R175mm","angle":42.7,"temp":66.9},{"radius":"R175mm","angle":44,"temp":67.9},{"radius":"R175mm","angle":44.9,"temp":66.0},{"radius":"R175mm","angle":46,"temp":67.8},{"radius":"R175mm","angle":48.8,"temp":66.6},{"radius":"R175mm","angle":51,"temp":65.3},{"radius":"R175mm","angle":54,"temp":64.0},{"radius":"R175mm","angle":57.7,"temp":62.9},{"radius":"R175mm","angle":61,"temp":62.0},{"radius":"R175mm","angle":65,"temp":62.0},{"radius":"R175mm","angle":67.7,"temp":62.0},{"radius":"R175mm","angle":71,"temp":63.1},{"radius":"R175mm","angle":75.4,"temp":63.1},{"radius":"R175mm","angle":77.7,"temp":64.4},{"radius":"R175mm","angle":79,"temp":64.2},{"radius":"R175mm","angle":81.6,"temp":64.7},{"radius":"R175mm","angle":83.2,"temp":62.0},{"radius":"R175mm","angle":84.3,"temp":64.0},{"radius":"R175mm","angle":85.4,"temp":62.2},{"radius":"R175mm","angle":87.1,"temp":64.0},{"radius":"R175mm","angle":90,"temp":63.8},{"radius":"R175mm","angle":92.7,"temp":64.4},{"radius":"R175mm","angle":95.4,"temp":65.3},{"radius":"R175mm","angle":96.6,"temp":68.0},{"radius":"R175mm","angle":98,"temp":69.1},{"radius":"R175mm","angle":101,"temp":70.2},{"radius":"R175mm","angle":103.2,"temp":70.0},{"radius":"R175mm","angle":104.9,"temp":68.2},{"radius":"R175mm","angle":106.6,"temp":70.0},{"radius":"R175mm","angle":108.8,"temp":70.2},{"radius":"R175mm","angle":112,"temp":70.3},{"radius":"R175mm","angle":113.8,"temp":70.0},{"radius":"R175mm","angle":115.4,"temp":68.4},{"radius":"R175mm","angle":117.1,"temp":70.0},{"radius":"R175mm","angle":118.8,"temp":68.4},{"radius":"R175mm","angle":121.6,"temp":69.6},{"radius":"R175mm","angle":123.2,"temp":68.2},{"radius":"R175mm","angle":125,"temp":69.2},{"radius":"R175mm","angle":126.6,"temp":66.4},{"radius":"R175mm","angle":129.9,"temp":67.5},{"radius":"R175mm","angle":131.6,"temp":66.0},{"radius":"R175mm","angle":133.2,"temp":67.5},{"radius":"R175mm","angle":134.3,"temp":66.2},{"radius":"R175mm","angle":135.4,"temp":68.0},{"radius":"R175mm","angle":137,"temp":68.0},{"radius":"R175mm","angle":139.9,"temp":66.0},{"radius":"R175mm","angle":144.3,"temp":64.4},{"radius":"R175mm","angle":150,"temp":62.5},{"radius":"R175mm","angle":154.3,"temp":61.7},{"radius":"R175mm","angle":160,"temp":63.0},{"radius":"R175mm","angle":163.2,"temp":63.0},{"radius":"R175mm","angle":166.6,"temp":64.2},{"radius":"R175mm","angle":168.8,"temp":63.9},{"radius":"R175mm","angle":171,"temp":64.9},{"radius":"R175mm","angle":172.7,"temp":63.8},{"radius":"R175mm","angle":174,"temp":62.0},{"radius":"R175mm","angle":174.9,"temp":64.7},{"radius":"R175mm","angle":176,"temp":62.9},{"radius":"R175mm","angle":177.7,"temp":63.8},{"radius":"R175mm","angle":179.9,"temp":64.0},{"radius":"R175mm","angle":184,"temp":64.5},{"radius":"R175mm","angle":185.4,"temp":65.8},{"radius":"R175mm","angle":186.6,"temp":67.6},{"radius":"R175mm","angle":187.7,"temp":66.9},{"radius":"R175mm","angle":189.3,"temp":69.3},{"radius":"R175mm","angle":191.6,"temp":70.0},{"radius":"R175mm","angle":194,"temp":68.0},{"radius":"R175mm","angle":195.4,"temp":70.2},{"radius":"R175mm","angle":197.7,"temp":70.3},{"radius":"R175mm","angle":199.3,"temp":68.2},{"radius":"R175mm","angle":200.4,"temp":70.2},{"radius":"R175mm","angle":202.7,"temp":70.4},{"radius":"R175mm","angle":206,"temp":70.0},{"radius":"R175mm","angle":208.8,"temp":69.6},{"radius":"R175mm","angle":210.4,"temp":68.4},{"radius":"R175mm","angle":212.1,"temp":69.3},{"radius":"R175mm","angle":213.8,"temp":68.0},{"radius":"R175mm","angle":215.4,"temp":69.3},{"radius":"R175mm","angle":217.7,"temp":66.9},{"radius":"R175mm","angle":221,"temp":66.4},{"radius":"R175mm","angle":223,"temp":67.5},{"radius":"R175mm","angle":224.3,"temp":66.0},{"radius":"R175mm","angle":225.4,"temp":68.0},{"radius":"R175mm","angle":226.6,"temp":67.3},{"radius":"R175mm","angle":228.8,"temp":66.2},{"radius":"R175mm","angle":233,"temp":64.9},{"radius":"R175mm","angle":237.7,"temp":63.3},{"radius":"R175mm","angle":241,"temp":61.8},{"radius":"R175mm","angle":245,"temp":61.8},{"radius":"R175mm","angle":248.8,"temp":62.9},{"radius":"R175mm","angle":254.3,"temp":64.0},{"radius":"R175mm","angle":258,"temp":64.2},{"radius":"R175mm","angle":261.6,"temp":64.0},{"radius":"R175mm","angle":264.3,"temp":62.2},{"radius":"R175mm","angle":265.4,"temp":64.4},{"radius":"R175mm","angle":266.8,"temp":62.9},{"radius":"R175mm","angle":268,"temp":63.6},{"radius":"R175mm","angle":271,"temp":64.4},{"radius":"R175mm","angle":274.3,"temp":65.1},{"radius":"R175mm","angle":277.1,"temp":68.0},{"radius":"R175mm","angle":278,"temp":66.6},{"radius":"R175mm","angle":279.9,"temp":69.1},{"radius":"R175mm","angle":282.1,"temp":70.0},{"radius":"R175mm","angle":284.3,"temp":68.0},{"radius":"R175mm","angle":286.6,"temp":70.2},{"radius":"R175mm","angle":288.8,"temp":70.3},{"radius":"R175mm","angle":290,"temp":68.4},{"radius":"R175mm","angle":291,"temp":70.2},{"radius":"R175mm","angle":294.9,"temp":68.0},{"radius":"R175mm","angle":296.6,"temp":70.0},{"radius":"R175mm","angle":299.3,"temp":70.0},{"radius":"R175mm","angle":301,"temp":68.4},{"radius":"R175mm","angle":304,"temp":67.8},{"radius":"R175mm","angle":305.4,"temp":69.3},{"radius":"R175mm","angle":308.2,"temp":66.7},{"radius":"R175mm","angle":311,"temp":66.2},{"radius":"R175mm","angle":313.2,"temp":68.0},{"radius":"R175mm","angle":314.3,"temp":66.2},{"radius":"R175mm","angle":315.4,"temp":67.5},{"radius":"R175mm","angle":316,"temp":68.0},{"radius":"R175mm","angle":319.3,"temp":66.7},{"radius":"R175mm","angle":324.3,"temp":64.4},{"radius":"R175mm","angle":329,"temp":63.0},{"radius":"R175mm","angle":333.2,"temp":61.8},{"radius":"R175mm","angle":339,"temp":62.5},{"radius":"R175mm","angle":343.2,"temp":64.0},{"radius":"R175mm","angle":347.7,"temp":63.3},{"radius":"R175mm","angle":351,"temp":64.4},{"radius":"R175mm","angle":354,"temp":64.7},{"radius":"R175mm","angle":354.6,"temp":62.2},{"radius":"R175mm","angle":355.4,"temp":62.9},{"radius":"R175mm","angle":356.6,"temp":60.6},{"radius":"R175mm","angle":357.7,"temp":61.5},{"radius":"R175mm","angle":358.8,"temp":60.4},{"radius":"R175mm","angle":360,"temp":59.5},

      {"radius":"R180mm","angle":3,"temp":58.4},{"radius":"R180mm","angle":8.8,"temp":64.4},{"radius":"R180mm","angle":12.1,"temp":66.0},{"radius":"R180mm","angle":15,"temp":66.4},{"radius":"R180mm","angle":19.9,"temp":66.6},{"radius":"R180mm","angle":28,"temp":66.4},{"radius":"R180mm","angle":36.6,"temp":65.3},{"radius":"R180mm","angle":44,"temp":64.0},{"radius":"R180mm","angle":48.8,"temp":63.1},{"radius":"R180mm","angle":54,"temp":62.0},{"radius":"R180mm","angle":59.9,"temp":60.4},{"radius":"R180mm","angle":65,"temp":59.5},{"radius":"R180mm","angle":73.2,"temp":60.6},{"radius":"R180mm","angle":79,"temp":61.5},{"radius":"R180mm","angle":84.3,"temp":60.9},{"radius":"R180mm","angle":90,"temp":61.5},{"radius":"R180mm","angle":93.2,"temp":63.1},{"radius":"R180mm","angle":98,"temp":65.4},{"radius":"R180mm","angle":104.3,"temp":66.6},{"radius":"R180mm","angle":112,"temp":66.6},{"radius":"R180mm","angle":117.7,"temp":66.6},{"radius":"R180mm","angle":121,"temp":66.2},{"radius":"R180mm","angle":125,"temp":65.7},{"radius":"R180mm","angle":129.9,"temp":64.9},{"radius":"R180mm","angle":137,"temp":64.2},{"radius":"R180mm","angle":143.2,"temp":62.4},{"radius":"R180mm","angle":150,"temp":60.2},{"radius":"R180mm","angle":154.3,"temp":59.5},{"radius":"R180mm","angle":160,"temp":60.0},{"radius":"R180mm","angle":166.6,"temp":60.9},{"radius":"R180mm","angle":174,"temp":60.9},{"radius":"R180mm","angle":179.9,"temp":61.3},{"radius":"R180mm","angle":184,"temp":62.7},{"radius":"R180mm","angle":188.8,"temp":64.9},{"radius":"R180mm","angle":194,"temp":66.6},{"radius":"R180mm","angle":199.9,"temp":66.8},{"radius":"R180mm","angle":206,"temp":66.6},{"radius":"R180mm","angle":215.4,"temp":65.3},{"radius":"R180mm","angle":223,"temp":64.0},{"radius":"R180mm","angle":228.8,"temp":63.5},{"radius":"R180mm","angle":233,"temp":63.1},{"radius":"R180mm","angle":237.7,"temp":60.6},{"radius":"R180mm","angle":245,"temp":59.4},{"radius":"R180mm","angle":251,"temp":60.9},{"radius":"R180mm","angle":258,"temp":61.2},{"radius":"R180mm","angle":263.2,"temp":61.1},{"radius":"R180mm","angle":268,"temp":61.1},{"radius":"R180mm","angle":273.2,"temp":62.9},{"radius":"R180mm","angle":278,"temp":64.9},{"radius":"R180mm","angle":282.1,"temp":66.2},{"radius":"R180mm","angle":290,"temp":66.7},{"radius":"R180mm","angle":296.6,"temp":66.6},{"radius":"R180mm","angle":304,"temp":66.0},{"radius":"R180mm","angle":309.9,"temp":64.9},{"radius":"R180mm","angle":316,"temp":64.0},{"radius":"R180mm","angle":322.1,"temp":63.1},{"radius":"R180mm","angle":329,"temp":60.9},{"radius":"R180mm","angle":333.2,"temp":60.0},{"radius":"R180mm","angle":339,"temp":59.7},{"radius":"R180mm","angle":344.3,"temp":60.2},{"radius":"R180mm","angle":354,"temp":60.6},{"radius":"R180mm","angle":357,"temp":59.5},{"radius":"R180mm","angle":360,"temp":57.7}
    ]
  },
  "resolve": {"axis": {"x": "independent", "y": "independent"}},
  "layer": [
    {
      "mark": {"type": "line", "strokeWidth": 2, "strokeJoin": "round"},
      "encoding": {
        "x": {
          "field": "angle", "type": "quantitative",
          "scale": {"domain": [0, 360], "nice": false, "zero": false},
          "axis": {
            "title": "Circumferential angle (°)",
            "titleFont": "Liberation Serif", "titleFontWeight": "bold", "titleFontSize": 17, "titleColor": "black", "titlePadding": 2,
            "values": [0,10,20,30,40,50,60,70,80,90,100,110,120,130,140,150,160,170,180,190,200,210,220,230,240,250,260,270,280,290,300,310,320,330,340,350],
            "labelExpr": "datum.value % 50 === 0 ? datum.label : ''",
            "labelOverlap": false, "labelFlush": false,
            "labelFont": "Liberation Serif", "labelFontWeight": "bold", "labelFontSize": 16, "labelColor": "black", "labelPadding": 17,
            "tickSize": -10, "tickColor": "#333333", "tickWidth": 1,
            "tickOpacity": {"condition": {"test": "datum.value % 50 === 0", "value": 1}, "value": 0},
            "domainColor": "#808080", "domainWidth": 1.5,
            "grid": true, "gridColor": "#d6d6d6", "gridDash": [3, 3], "gridWidth": 1
          }
        },
        "y": {
          "field": "temp", "type": "quantitative",
          "scale": {"domain": [50, 124], "nice": false, "zero": false},
          "axis": {
            "title": "Temperature (°C)",
            "titleFont": "Liberation Serif", "titleFontWeight": "bold", "titleFontSize": 17, "titleColor": "black", "titlePadding": 6,
            "values": [50,52,54,56,58,60,62,64,66,68,70,72,74,76,78,80,82,84,86,88,90,92,94,96,98,100,102,104,106,108,110,112,114,116,118,120,122],
            "labelExpr": "datum.value % 10 === 0 ? datum.label : ''",
            "labelOverlap": false, "labelFlush": false,
            "labelFont": "Liberation Serif", "labelFontWeight": "bold", "labelFontSize": 16, "labelColor": "black", "labelPadding": 8,
            "tickSize": -10, "tickColor": "#333333", "tickWidth": 1,
            "tickOpacity": {"condition": {"test": "datum.value % 10 === 0", "value": 1}, "value": 0},
            "domainColor": "#808080", "domainWidth": 1.5,
            "grid": true, "gridColor": "#d6d6d6", "gridDash": [3, 3], "gridWidth": 1
          }
        },
        "color": {
          "field": "radius", "type": "nominal",
          "scale": {
            "domain": ["R113mm","R118mm","R122.5mm","R131mm","R146.5mm","R154mm","R170mm","R175mm","R180mm"],
            "range": ["#000000","#000000","#1ee01e","#f020f0","#ee1111","#3ee6e6","#1010d8","#000000","#000000"]
          },
          "legend": {
            "orient": "top", "direction": "horizontal", "title": null,
            "labelFont": "Liberation Serif", "labelFontWeight": "bold", "labelFontSize": 16, "labelColor": "black",
            "labelOffset": 13, "columnPadding": -1,
            "symbolSize": 900, "symbolStrokeWidth": 2, "symbolType": "stroke",
            "strokeColor": "#444444", "fillColor": "white", "padding": 4, "offset": 1,
            "encode": {
              "symbols": {
                "update": {
                  "shape": {"signal": "datum.value === 'R113mm' ? 'M-0.667,0L0.033,0M0.633,0L1.333,0M0.033,0L0.333,-0.37L0.633,0L0.333,0.37Z' : datum.value === 'R118mm' ? 'M-0.667,0L0.163,0M0.503,0L1.333,0M0.003,-0.3L0.663,-0.3L0.333,0.33Z' : datum.value === 'R175mm' ? 'M-0.667,0L0.033,0M0.633,0L1.333,0M0.633,0A0.3,0.3 0 1,1 0.033,0A0.3,0.3 0 1,1 0.633,0Z' : datum.value === 'R180mm' ? 'M-0.667,0L1.333,0M0.333,-0.3L0.333,0.3M0.073,-0.15L0.593,0.15M0.073,0.15L0.593,-0.15' : 'M-0.667,0L1.333,0'"},
                  "fill": {"value": "white"},
                  "strokeWidth": {"signal": "indexof(['R113mm','R118mm','R175mm','R180mm'], datum.value) >= 0 ? 1.6 : 2"}
                }
              }
            }
          }
        }
      }
    },
    {
      "transform": [
        {"filter": {"field": "radius", "oneOf": ["R113mm","R118mm","R175mm","R180mm"]}},
        {"filter": {"field": "angle", "oneOf": [3,15,28,44,54,65,79,90,98,112,125,137,150,160,174,184,194,206,223,233,245,258,268,278,290,304,316,329,339,354]}}
      ],
      "mark": {"type": "point", "filled": false, "fill": "white", "fillOpacity": 1, "stroke": "black", "strokeWidth": 1.5, "size": 95, "opacity": 1},
      "encoding": {
        "x": {
          "field": "angle", "type": "quantitative",
          "axis": {"orient": "top", "title": null, "labels": false, "grid": false, "values": [0,50,100,150,200,250,300,350], "tickSize": -10, "tickColor": "#333333", "domainColor": "#808080", "domainWidth": 1.5}
        },
        "y": {
          "field": "temp", "type": "quantitative",
          "axis": {"orient": "right", "title": null, "labels": false, "grid": false, "values": [50,60,70,80,90,100,110,120], "tickSize": -10, "tickColor": "#333333", "domainColor": "#808080", "domainWidth": 1.5}
        },
        "shape": {
          "field": "radius", "type": "nominal",
          "scale": {
            "domain": ["R113mm","R118mm","R175mm","R180mm"],
            "range": ["diamond","triangle-down","circle","M-1,0L1,0M0,-1L0,1M-0.87,-0.5L0.87,0.5M-0.87,0.5L0.87,-0.5"]
          },
          "legend": null
        }
      }
    }
  ]
}
